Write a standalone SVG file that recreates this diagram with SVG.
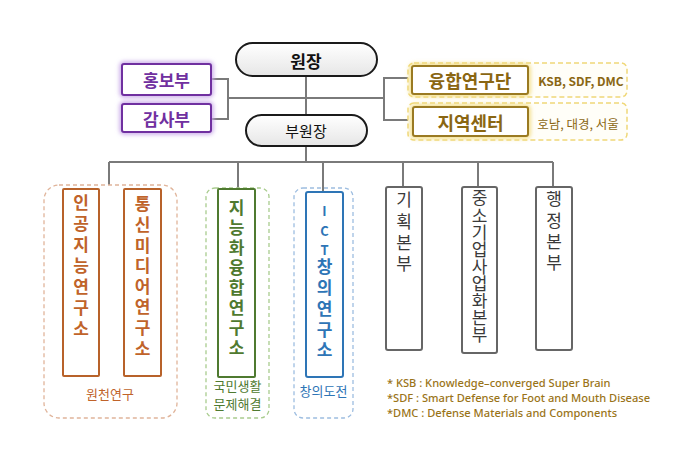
<svg xmlns="http://www.w3.org/2000/svg" width="680" height="453" viewBox="0 0 680 453">
<defs>
<filter id="glow" x="-20%" y="-30%" width="140%" height="160%"><feGaussianBlur stdDeviation="2"/></filter>
<linearGradient id="pill" x1="0" y1="0" x2="0" y2="1"><stop offset="0" stop-color="#ffffff"/><stop offset="1" stop-color="#e6e6e6"/></linearGradient>
</defs>
<style>
text{font-family:"Noto Sans CJK KR","Noto Sans",sans-serif;text-anchor:middle;dominant-baseline:central}
.v{writing-mode:vertical-rl;text-orientation:upright;text-anchor:start}
.ln{stroke:#7a7a7a;stroke-width:2;fill:none}
.pill{fill:url(#pill);stroke:#1a1a1a;stroke-width:2}
.pur{fill:#fff;stroke:#7030a0;stroke-width:2}
.purg{fill:none;stroke:#c8a8e8;stroke-width:5;filter:url(#glow)}
.gold{fill:#fff;stroke:#9a7a22;stroke-width:2}
.goldg{fill:none;stroke:#f2dc80;stroke-width:5;filter:url(#glow)}
.golddash{fill:#fffef8;stroke:#f0d878;stroke-width:1.5;stroke-dasharray:5 3}
.orb{fill:#fff;stroke:#b8622a;stroke-width:2}
.ord{fill:none;stroke:#e0b49a;stroke-width:1.3;stroke-dasharray:4 3}
.grb{fill:#fff;stroke:#4f7a30;stroke-width:2}
.grd{fill:none;stroke:#a9cc8e;stroke-width:1.3;stroke-dasharray:4 3}
.blb{fill:#fff;stroke:#2e75b6;stroke-width:2}
.bld{fill:none;stroke:#9dbde0;stroke-width:1.3;stroke-dasharray:4 3}
.gyb{fill:#fff;stroke:#666;stroke-width:2}
.t-or{fill:#c0632a;font-weight:bold;font-size:17px}
.t-gr{fill:#4f7a30;font-weight:bold;font-size:17px}
.t-bl{fill:#2e75b6;font-weight:bold;font-size:17px}
.t-gy{fill:#3a3a3a;font-size:17px}
.t-gd{fill:#8a6612;font-weight:bold}
.note{fill:#9a7418;font-family:"Noto Sans",sans-serif;font-size:11.1px;text-anchor:start;font-weight:500}
</style>

<g id="connectors">
<path class="ln" d="M306 76V115M306 146V162M109 162H553"/>
<path class="ln" d="M211 79H228V119H211M228 98H384M412 78H384V120H412"/>
<path class="ln" d="M109 162V185M238 162V189M323 162V192M403 162V187M478 162V187M553 162V187"/>
</g>

<g id="n-director">
<rect class="pill" x="236" y="43" width="141" height="33" rx="16.5"/>
<text x="306" y="60" style="font-size:17px;font-weight:bold;fill:#111">원장</text>
</g>
<g id="n-vice">
<rect class="pill" x="246" y="115" width="121" height="31" rx="15.5"/>
<text x="306" y="130.5" style="font-size:15px;fill:#111">부원장</text>
</g>

<g id="n-pr">
<rect class="purg" x="122" y="64" width="89" height="31" rx="2"/>
<rect class="pur" x="122" y="64" width="89" height="31" rx="2"/>
<text x="166.5" y="79.5" style="font-size:17px;font-weight:bold;fill:#7030a0">홍보부</text>
</g>
<g id="n-audit">
<rect class="purg" x="122" y="104" width="89" height="28" rx="2"/>
<rect class="pur" x="122" y="104" width="89" height="28" rx="2"/>
<text x="166.5" y="118" style="font-size:17px;font-weight:bold;fill:#7030a0">감사부</text>
</g>

<g id="n-convergence">
<rect class="golddash" x="408" y="63" width="219" height="34" rx="6"/>
<rect class="goldg" x="412" y="66" width="116" height="28" rx="2"/>
<rect class="gold" x="412" y="66" width="116" height="28" rx="2"/>
<text class="t-gd" x="470" y="80" style="font-size:18px">융합연구단</text>
<text class="t-gd" x="581" y="80" style="font-size:12px">KSB, SDF, DMC</text>
</g>
<g id="n-regional">
<rect class="golddash" x="408" y="103" width="219" height="37" rx="6"/>
<rect class="goldg" x="413" y="107" width="115" height="29" rx="2"/>
<rect class="gold" x="413" y="107" width="115" height="29" rx="2"/>
<text class="t-gd" x="470.5" y="121.5" style="font-size:18px">지역센터</text>
<text class="t-gd" x="578" y="123" style="font-size:12.5px;font-weight:normal">호남, 대경, 서울</text>
</g>

<g id="g-basic">
<rect class="ord" x="44" y="185" width="133" height="233" rx="15"/>
<text x="110" y="393" style="font-size:13px;fill:#c0632a">원천연구</text>
</g>
<g id="n-ai">
<rect class="orb" x="63" y="189" width="36" height="187" rx="1"/>
<text class="t-or v" x="81" y="194.5" style="letter-spacing:4px">인공지능연구소</text>
</g>
<g id="n-media">
<rect class="orb" x="124" y="189" width="37" height="187" rx="1"/>
<text class="t-or v" x="142.5" y="195.5" style="letter-spacing:3.6px">통신미디어연구소</text>
</g>

<g id="g-life">
<rect class="grd" x="206" y="188" width="63" height="230" rx="9"/>
<text x="237.5" y="385" style="font-size:13px;fill:#4f7a30">국민생활</text>
<text x="237.5" y="403" style="font-size:13px;fill:#4f7a30">문제해결</text>
</g>
<g id="n-intel">
<rect class="grb" x="218" y="189" width="37" height="188" rx="1"/>
<text class="t-gr v" x="236.5" y="199.5" style="letter-spacing:3px">지능화융합연구소</text>
</g>

<g id="g-creative">
<rect class="bld" x="294" y="188" width="59" height="230" rx="9"/>
<text x="323.5" y="390" style="font-size:13px;fill:#2e75b6">창의도전</text>
</g>
<g id="n-ict">
<rect class="blb" x="306" y="192" width="37" height="185" rx="2"/>
<text class="t-bl" x="324.5" y="210" style="font-size:13px">I</text>
<text class="t-bl" x="324.5" y="230" style="font-size:13px">C</text>
<text class="t-bl" x="324.5" y="249" style="font-size:13px">T</text>
<text class="t-bl v" x="324.5" y="258.5" style="letter-spacing:3.75px">창의연구소</text>
</g>

<g id="n-planning">
<rect class="gyb" x="386" y="187" width="36" height="163" rx="2"/>
<text class="t-gy v" x="404" y="191.5" style="letter-spacing:4.3px">기획본부</text>
</g>
<g id="n-sme">
<rect class="gyb" x="462" y="187" width="35" height="166" rx="2"/>
<text class="t-gy v" x="479.5" y="189.5" style="letter-spacing:0.1px">중소기업사업화본부</text>
</g>
<g id="n-admin">
<rect class="gyb" x="536" y="187" width="36" height="163" rx="2"/>
<text class="t-gy v" x="554" y="190.5" style="letter-spacing:4.3px">행정본부</text>
</g>

<g id="notes">
<text class="note" x="387" y="382">* KSB : Knowledge–converged Super Brain</text>
<text class="note" x="387" y="397">*SDF : Smart Defense for Foot and Mouth Disease</text>
<text class="note" x="387" y="412">*DMC : Defense Materials and Components</text>
</g>
</svg>
